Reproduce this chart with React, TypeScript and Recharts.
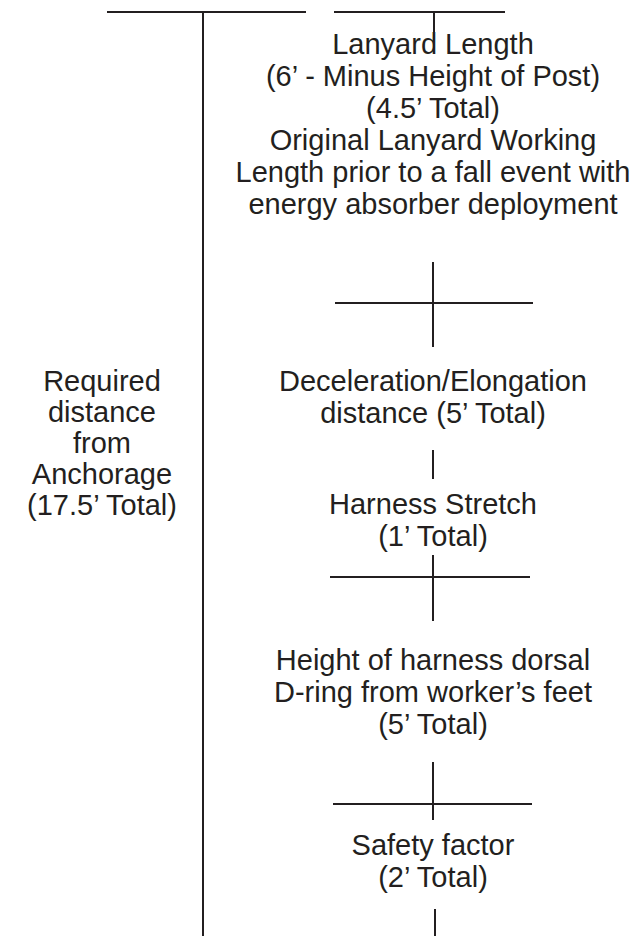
import { ComposedChart, Scatter, XAxis, YAxis, ReferenceLine } from "recharts"

// layout units match the 638 x 936 canvas, y grows downward
const WIDTH = 638
const HEIGHT = 936
const INK = "#231f20"

// right-hand column text, one entry per line
const rightLines = [
  "Lanyard Length",
  "(6\u2019 - Minus Height of Post)",
  "(4.5\u2019 Total)",
  "Original Lanyard Working",
  "Length prior to a fall event with",
  "energy absorber deployment",
  "Deceleration/Elongation",
  "distance (5\u2019 Total)",
  "Harness Stretch",
  "(1\u2019 Total)",
  "Height of harness dorsal",
  "D-ring from worker\u2019s feet",
  "(5\u2019 Total)",
  "Safety factor",
  "(2\u2019 Total)",
]
const rightBaselines = [54, 86, 118, 150, 182, 214, 391, 423, 514, 546, 670, 702, 734, 855, 887]

const leftLines = ["Required", "distance", "from", "Anchorage", "(17.5\u2019 Total)"]
const leftBaselines = [391, 422, 453, 484, 515]

const rightCenter = 433
const leftCenter = 102

// connector segments: [x1, y1, x2, y2]
const segments: [number, number, number, number][] = [
  [203, 12, 203, 936],
  [107, 12, 306, 12],
  [334, 12, 505, 12],
  [434, 12, 434, 32],
  [433, 262, 433, 347],
  [335, 303, 533, 303],
  [433, 450, 433, 479],
  [433, 555, 433, 621],
  [330, 577, 530, 577],
  [433, 762, 433, 820],
  [333, 804, 532, 804],
  [435, 909, 435, 936],
]

const labelData = [
  ...rightLines.map((text, i) => ({ x: rightCenter, y: rightBaselines[i], text })),
  ...leftLines.map((text, i) => ({ x: leftCenter, y: leftBaselines[i], text })),
]

const LabelShape = (props: any) => {
  const { cx, cy, payload } = props
  return (
    <text
      x={cx}
      y={cy}
      textAnchor="middle"
      fontFamily="'Liberation Sans', Arial, sans-serif"
      fontSize={29}
      fill={INK}
    >
      {payload.text}
    </text>
  )
}

export default function App() {
  return (
    <div style={{ position: "absolute", left: 0, top: 0, background: "#fff" }}>
      <ComposedChart width={WIDTH} height={HEIGHT} margin={{ top: 0, right: 0, bottom: 0, left: 0 }}>
        <XAxis type="number" dataKey="x" domain={[0, WIDTH]} hide />
        <YAxis type="number" dataKey="y" domain={[0, HEIGHT]} reversed hide />
        {segments.map(([x1, y1, x2, y2], i) => (
          <ReferenceLine
            key={`seg-${i}`}
            segment={[
              { x: x1, y: y1 },
              { x: x2, y: y2 },
            ]}
            stroke={INK}
            strokeWidth={2}
            ifOverflow="visible"
          />
        ))}
        <Scatter data={labelData} shape={LabelShape} isAnimationActive={false} />
      </ComposedChart>
    </div>
  )
}
